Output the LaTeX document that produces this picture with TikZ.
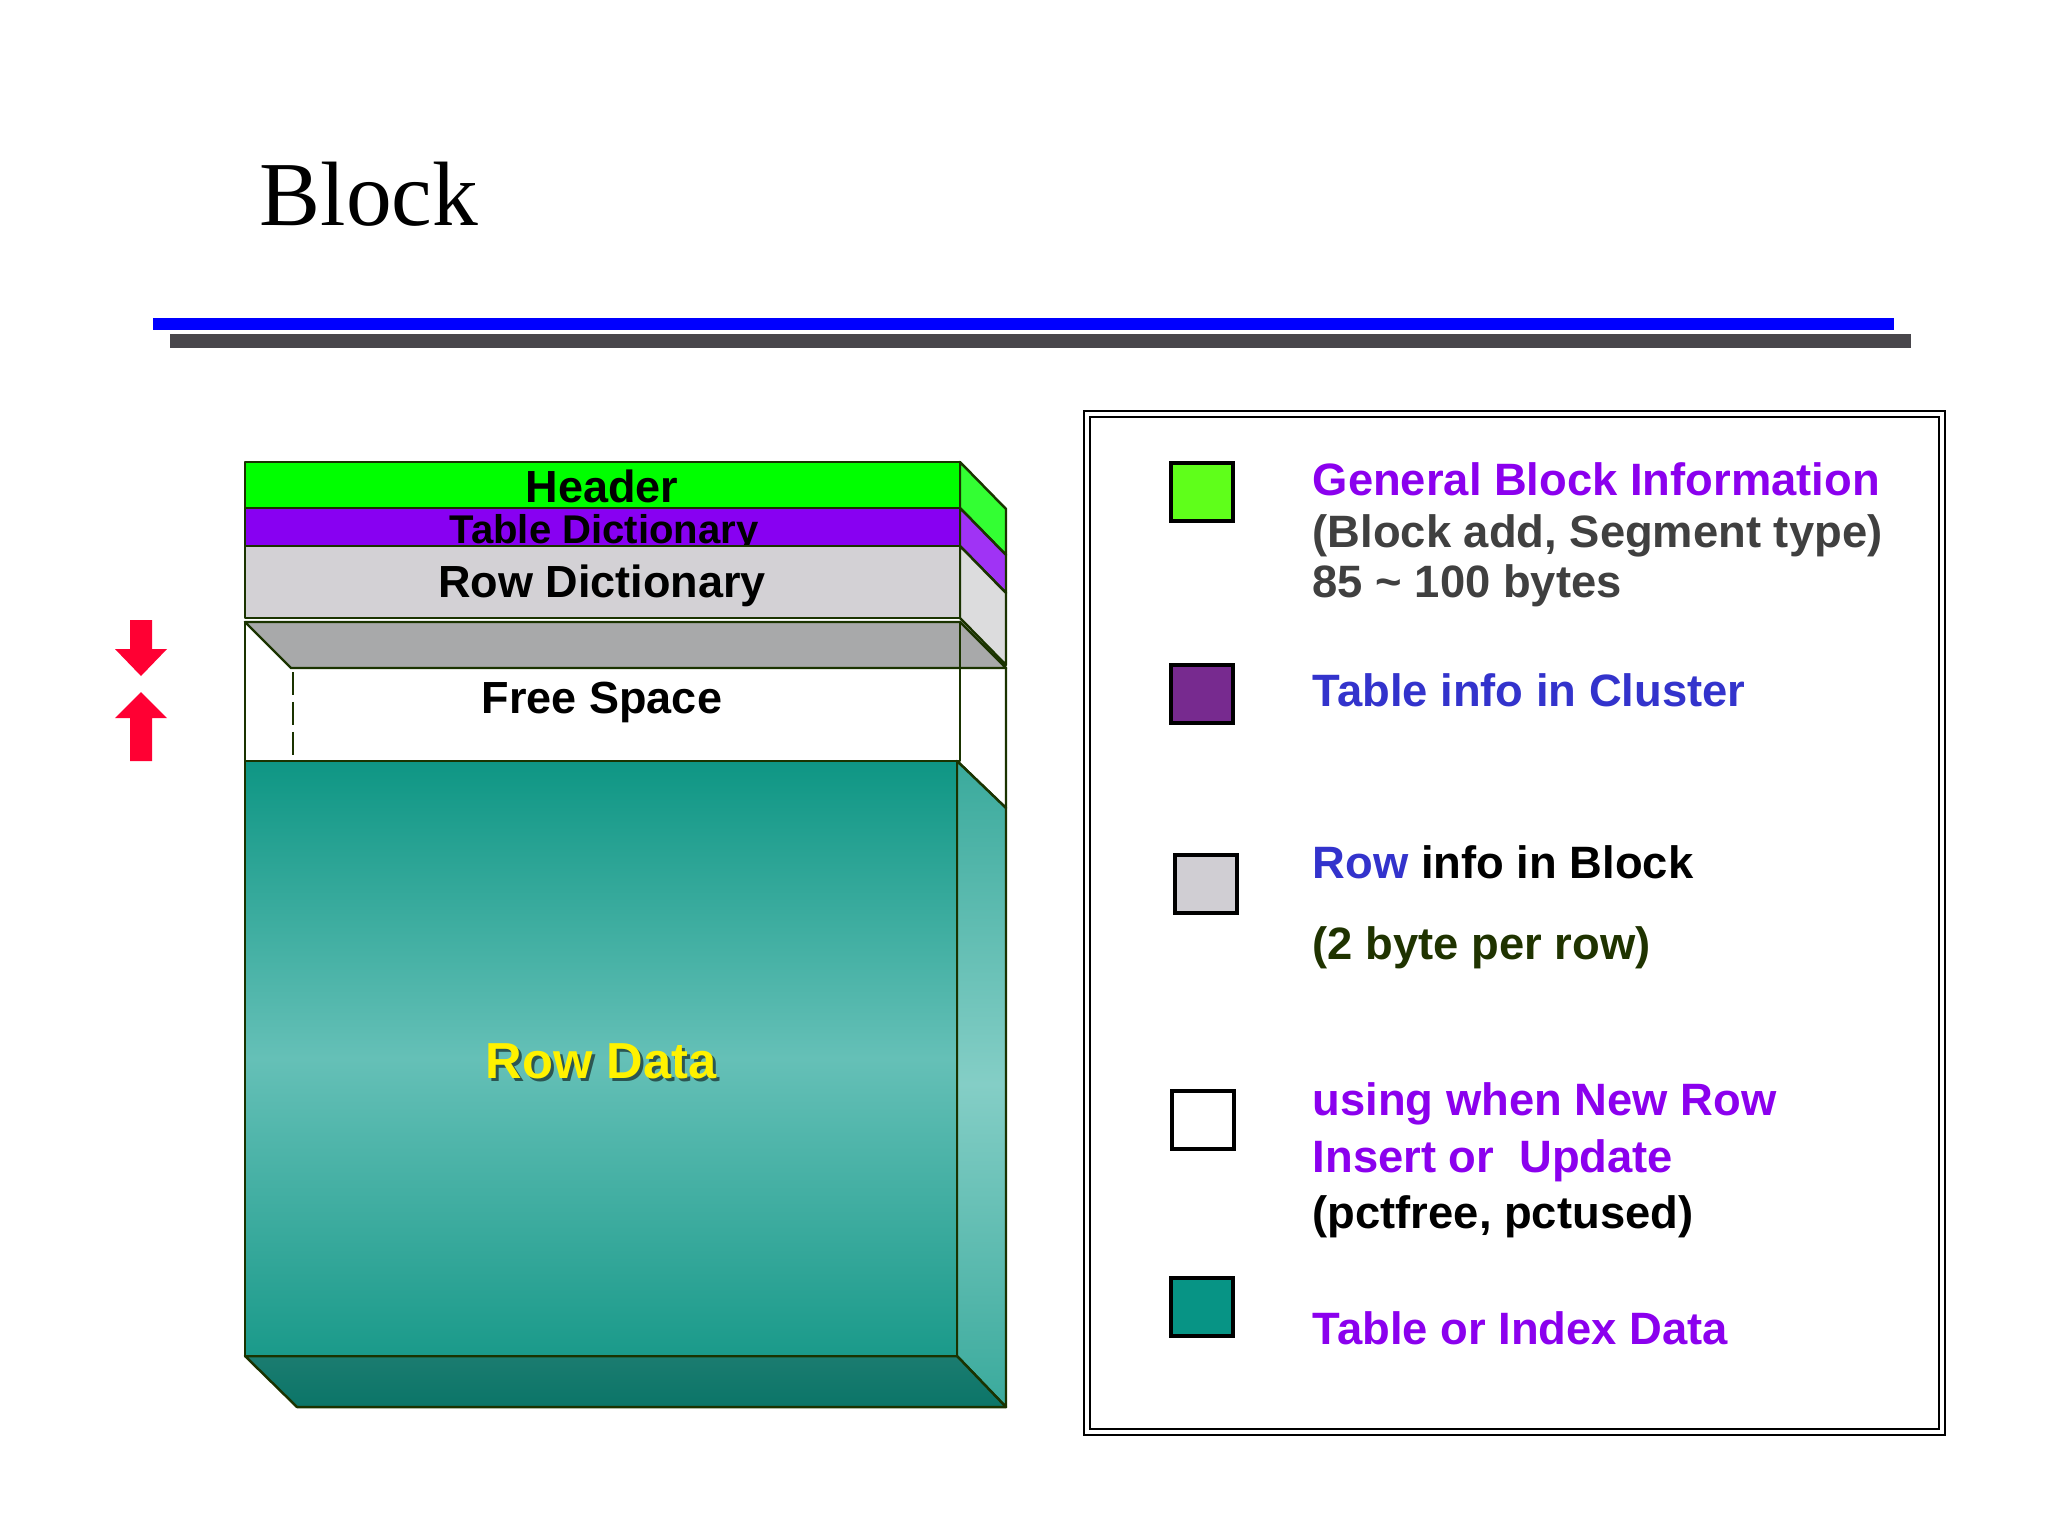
\documentclass[tikz,border=0pt]{standalone}
\usepackage{fontspec}
\setmainfont{Liberation Sans}
\newfontfamily\titlefont{Liberation Serif}
\usepackage{xcolor}
\usepackage{tikz}
\tikzset{>=latex}
\definecolor{rulegray}{HTML}{48464B}
\definecolor{lineblk}{HTML}{1A3300}
\definecolor{hdrgreen}{HTML}{00FF00}
\definecolor{hdrside}{HTML}{33FF33}
\definecolor{tdpurple}{HTML}{8800F2}
\definecolor{tdside}{HTML}{A033F5}
\definecolor{rdgray}{HTML}{D3D1D5}
\definecolor{rdside}{HTML}{DCDCDD}
\definecolor{fsgray}{HTML}{A8A9AA}
\definecolor{rdtop}{HTML}{0E9684}
\definecolor{rdmid}{HTML}{65C0B7}
\definecolor{rdbot}{HTML}{1A9A8A}
\definecolor{rdsidetop}{HTML}{3AAA9C}
\definecolor{rdsidemid}{HTML}{84CEC6}
\definecolor{rdbtmtop}{HTML}{1B7C70}
\definecolor{rdbtmbot}{HTML}{0B7568}
\definecolor{arrowred}{HTML}{FF0033}
\definecolor{lgdpurple}{HTML}{8B00EE}
\definecolor{lgdgray}{HTML}{404040}
\definecolor{lgdblue}{HTML}{3333CC}
\definecolor{lgdgreen}{HTML}{1F3300}
\definecolor{swgreen}{HTML}{5FFF1A}
\definecolor{swpurple}{HTML}{772A8F}
\definecolor{swgray}{HTML}{D0CED3}
\definecolor{swteal}{HTML}{079485}
\tikzset{
  blockline/.style={draw=lineblk, line width=0.7pt, line join=round},
  lbl/.style={font=\bfseries\fontsize{12.8}{15}\selectfont, inner sep=0pt, anchor=base},
  lgd/.style={font=\bfseries\fontsize{12.9}{15}\selectfont, inner sep=0pt, anchor=base west},
  swatch/.style={draw=black, line width=0.9pt, minimum width=0.62cm, minimum height=0.58cm, inner sep=0pt},
}

\begin{document}
\begin{tikzpicture}[x=0.01cm, y=-0.01cm]
      \useasboundingbox (0,0) rectangle (2048,1536);
      \fill[white] (0,0) rectangle (2048,1536);
      \node[font=\titlefont\fontsize{26}{30}\selectfont, inner sep=0pt, anchor=base west] (title) at (259,225) {Block};
      \fill[blue] (153,318) rectangle (1894,330);
      \fill[rulegray] (170,334) rectangle (1911,348);

      \filldraw[blockline, fill=hdrside] (960,462) -- (1006,509) -- (1006,555) -- (960,508) -- cycle;
      \filldraw[blockline, fill=hdrgreen] (245,462) rectangle (960,508);
      \node[lbl] (hdr) at (602,502) {Header};
      \filldraw[blockline, fill=tdside] (960,508) -- (1006,555) -- (1006,593) -- (960,546) -- cycle;
      \filldraw[blockline, fill=tdpurple] (245,508) rectangle (960,546);
      \node[lbl, font=\bfseries\fontsize{11.4}{14}\selectfont] (tdict) at (604,543) {Table Dictionary};
      \filldraw[blockline, fill=rdside] (960,546) -- (1006,593) -- (1006,665) -- (960,618) -- cycle;
      \filldraw[blockline, fill=rdgray] (245,546) rectangle (960,618);
      \node[lbl] (rdict) at (602,597) {Row Dictionary};

      \filldraw[blockline, fill=white] (960,622) -- (1006,668) -- (1006,808) -- (957,761) -- cycle;
      \fill[white] (245,622) rectangle (960,761);
      \filldraw[blockline, fill=fsgray] (245,622) -- (960,622) -- (1006,668) -- (291,668) -- cycle;
      \draw[blockline] (245,622) rectangle (960,761);
      \draw[lineblk, line width=0.5pt, dash pattern=on 6.5pt off 2pt] (293,672) -- (293,755);
      \node[lbl] (fspace) at (602,713) {Free Space};

      \shade[top color=rdsidetop, bottom color=rdsidetop, middle color=rdsidemid] (957,761) -- (1006,808) -- (1006,1407) -- (957,1356) -- cycle;
      \draw[blockline] (957,761) -- (1006,808) -- (1006,1407) -- (957,1356) -- cycle;
      \shade[top color=rdbtmtop, bottom color=rdbtmbot] (245,1356) -- (957,1356) -- (1006,1407) -- (297,1407) -- cycle;
      \draw[blockline] (245,1356) -- (957,1356) -- (1006,1407) -- (297,1407) -- cycle;
      \shade[top color=rdtop, bottom color=rdbot, middle color=rdmid] (245,761) rectangle (957,1356);
      \draw[blockline] (245,761) rectangle (957,1356);
      \node[lbl, font=\bfseries\fontsize{14.4}{16}\selectfont, text=black, opacity=0.55] (rdatash) at (604,1081) {Row Data};
      \node[lbl, font=\bfseries\fontsize{14.4}{16}\selectfont, text=yellow] (rdata) at (601,1078) {Row Data};

      \fill[arrowred] (130,620) -- (152,620) -- (152,649) -- (167,649) -- (141,676) -- (115,649) -- (130,649) -- cycle;
      \fill[arrowred] (130,761) -- (152,761) -- (152,718) -- (167,718) -- (141,692) -- (115,718) -- (130,718) -- cycle;

      \draw[black, line width=0.8pt] (1084,411) rectangle (1945,1435);
      \draw[black, line width=0.6pt] (1090,417) rectangle (1939,1429);

      \node[swatch, fill=swgreen] (swgen) at (1202,492) {};
      \node[swatch, fill=swpurple] (swtab) at (1202,694) {};
      \node[swatch, fill=swgray] (swrow) at (1206,884) {};
      \node[swatch, fill=white] (swfree) at (1203,1120) {};
      \node[swatch, fill=swteal] (swdata) at (1202,1307) {};

      \node[lgd, text=lgdpurple] (ginfo) at (1312,495) {General Block Information};
      \node[lgd, text=lgdgray] (gadd) at (1312,547) {(Block add, Segment type)};
      \node[lgd, text=lgdgray] (gsize) at (1312,597) {85 \textasciitilde{} 100 bytes};
      \node[lgd, text=lgdblue] (tinfo) at (1312,706) {Table info in Cluster};
      \node[lgd] (rinfo) at (1312,878) {\textcolor{lgdblue}{Row} info in Block};
      \node[lgd, text=lgdgreen] (rbyte) at (1312,959) {(2 byte per row)};
      \node[lgd, text=lgdpurple] (fnew) at (1312,1115) {using when New Row};
      \node[lgd, text=lgdpurple] (fins) at (1312,1172) {Insert or\ \ Update};
      \node[lgd] (fpct) at (1312,1228) {(pctfree, pctused)};
      \node[lgd, text=lgdpurple] (tdata) at (1312,1344) {Table or Index Data};
    \end{tikzpicture}
\end{document}
